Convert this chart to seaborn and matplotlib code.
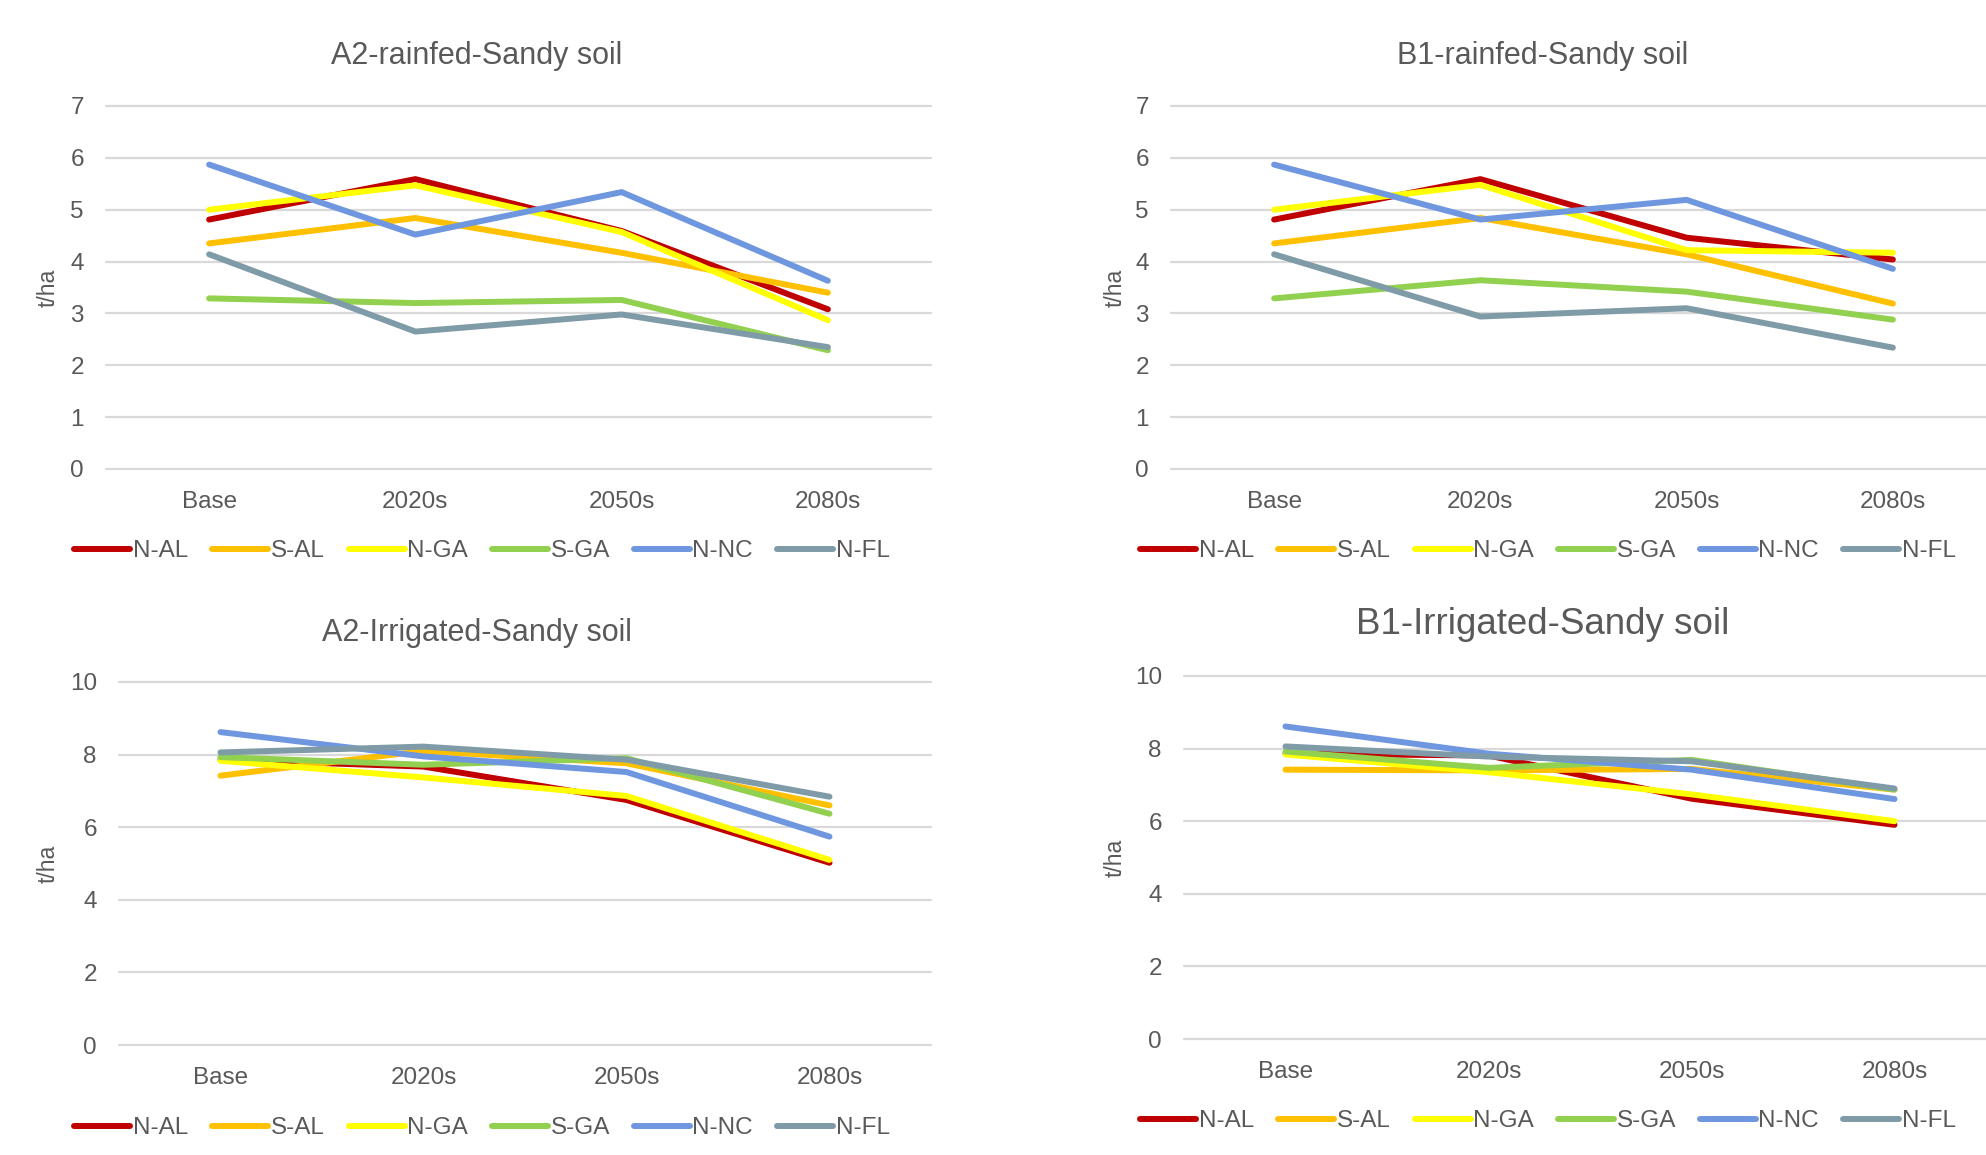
import numpy as np
import pandas as pd
import seaborn as sns
import matplotlib
matplotlib.use("Agg")
import matplotlib.pyplot as plt

# Periods and cultivar/location series
periods = ["Base", "2020s", "2050s", "2080s"]
series = ["N-AL", "S-AL", "N-GA", "S-GA", "N-NC", "N-FL"]
colors = ["#C00000", "#FFC000", "#FFFF00", "#92D050", "#6E97E0", "#7F9BA8"]

# Yields (t/ha) per series, one list per panel
a2_rainfed_n_al = [4.81, 5.59, 4.59, 3.08]
a2_rainfed_s_al = [4.35, 4.84, 4.17, 3.40]
a2_rainfed_n_ga = [5.00, 5.47, 4.57, 2.87]
a2_rainfed_s_ga = [3.29, 3.20, 3.26, 2.29]
a2_rainfed_n_nc = [5.87, 4.52, 5.34, 3.63]
a2_rainfed_n_fl = [4.14, 2.65, 2.98, 2.35]

b1_rainfed_n_al = [4.81, 5.59, 4.46, 4.04]
b1_rainfed_s_al = [4.35, 4.84, 4.14, 3.19]
b1_rainfed_n_ga = [5.00, 5.48, 4.22, 4.17]
b1_rainfed_s_ga = [3.29, 3.64, 3.42, 2.88]
b1_rainfed_n_nc = [5.87, 4.81, 5.19, 3.86]
b1_rainfed_n_fl = [4.14, 2.94, 3.10, 2.34]

a2_irrig_n_al = [7.86, 7.67, 6.75, 5.02]
a2_irrig_s_al = [7.42, 8.10, 7.76, 6.60]
a2_irrig_n_ga = [7.83, 7.37, 6.86, 5.10]
a2_irrig_s_ga = [7.93, 7.72, 7.90, 6.37]
a2_irrig_n_nc = [8.62, 7.95, 7.52, 5.74]
a2_irrig_n_fl = [8.06, 8.22, 7.86, 6.84]

b1_irrig_n_al = [7.86, 7.81, 6.62, 5.90]
b1_irrig_s_al = [7.42, 7.40, 7.44, 6.87]
b1_irrig_n_ga = [7.84, 7.35, 6.74, 6.00]
b1_irrig_s_ga = [7.92, 7.47, 7.69, 6.87]
b1_irrig_n_nc = [8.61, 7.86, 7.42, 6.61]
b1_irrig_n_fl = [8.06, 7.78, 7.65, 6.90]

panel_titles = ["A2-rainfed-Sandy soil", "B1-rainfed-Sandy soil",
                "A2-Irrigated-Sandy soil", "B1-Irrigated-Sandy soil"]
panel_data = [
    [a2_rainfed_n_al, a2_rainfed_s_al, a2_rainfed_n_ga, a2_rainfed_s_ga, a2_rainfed_n_nc, a2_rainfed_n_fl],
    [b1_rainfed_n_al, b1_rainfed_s_al, b1_rainfed_n_ga, b1_rainfed_s_ga, b1_rainfed_n_nc, b1_rainfed_n_fl],
    [a2_irrig_n_al, a2_irrig_s_al, a2_irrig_n_ga, a2_irrig_s_ga, a2_irrig_n_nc, a2_irrig_n_fl],
    [b1_irrig_n_al, b1_irrig_s_al, b1_irrig_n_ga, b1_irrig_s_ga, b1_irrig_n_nc, b1_irrig_n_fl],
]
y_max = [7, 7, 10, 10]
y_step = [1, 1, 2, 2]

sns.set_style("white")
plt.rcParams["font.family"] = ["Liberation Sans", "DejaVu Sans"]
TEXT = "#595959"
GRID = "#D9D9D9"
LW = 4.3

W, H = 1986, 1155
fig = plt.figure(figsize=(W / 100, H / 100), dpi=100)

# axes boxes in pixels: left, right, top, bottom (right-hand charts run past the edge)
boxes = [(106, 931, 106, 469), (1171, 1996, 106, 469),
         (119, 931, 682, 1045), (1184, 1996, 676, 1039)]
title_pos = [(477, 56, 22), (1543, 56, 22), (477, 633, 22), (1543, 625, 26.5)]
ylabel_x = [48, 1115, 48, 1115]
legend_pos = [(482, 551), (1548, 551), (482, 1128), (1548, 1121)]

palette = dict(zip(series, colors))

for i in range(4):
    l, r, t, b = boxes[i]
    ax = fig.add_axes([l / W, 1 - b / H, (r - l) / W, (b - t) / H])
    frame = pd.DataFrame({
        "period": periods * len(series),
        "series": np.repeat(series, len(periods)),
        "yield": np.concatenate(panel_data[i]),
    })
    sns.lineplot(data=frame, x="period", y="yield", hue="series",
                 hue_order=series, palette=palette, sort=False,
                 linewidth=LW, legend=False, ax=ax,
                 solid_capstyle="round", solid_joinstyle="round")
    ax.set_xlim(-0.5, 3.5)
    ax.set_ylim(0, y_max[i])
    ax.set_yticks(np.arange(0, y_max[i] + 0.01, y_step[i]))
    ax.set_xticks(range(len(periods)))
    ax.set_xticklabels(periods)
    for s in ax.spines.values():
        s.set_visible(False)
    ax.grid(axis="y", color=GRID, linewidth=1.6)
    ax.grid(axis="x", visible=False)
    ax.set_axisbelow(True)
    ax.tick_params(axis="both", length=0, labelsize=17.5, colors=TEXT)
    ax.tick_params(axis="y", pad=16)
    ax.tick_params(axis="x", pad=16)
    ax.set_xlabel("")
    ax.set_ylabel("")
    for gl in ax.get_ygridlines():
        gl.set_clip_on(False)

    tx, ty, ts = title_pos[i]
    fig.text(tx / W, 1 - ty / H, panel_titles[i], ha="center", va="center",
             fontsize=ts, color=TEXT)
    fig.text(ylabel_x[i] / W, 1 - ((t + b) / 2) / H, "t/ha", rotation=90,
             ha="center", va="center", fontsize=16.5, color=TEXT)

    handles = ax.get_lines()[:len(series)]
    lx, ly = legend_pos[i]
    leg = fig.legend(handles, series, loc="center", bbox_to_anchor=(lx / W, 1 - ly / H),
                     ncol=6, frameon=False, fontsize=17.5, handlelength=2.3,
                     handletextpad=0.1, columnspacing=1.0, labelcolor=TEXT)
    for h in leg.legend_handles:
        h.set_linewidth(LW)
        h.set_solid_capstyle("round")

fig.savefig("out.png", dpi=100, facecolor="white")
